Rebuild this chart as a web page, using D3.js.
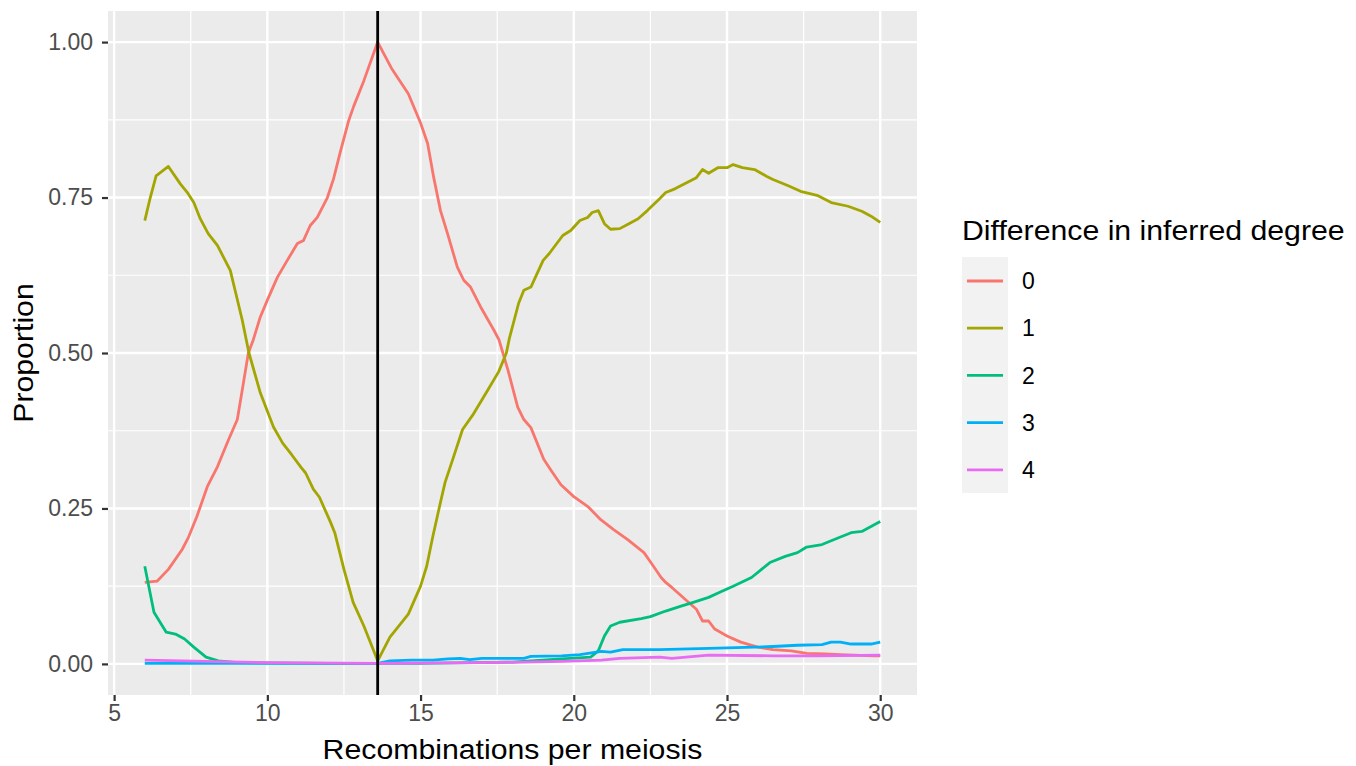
<!DOCTYPE html>
<html>
<head>
<meta charset="utf-8">
<script src="https://cdn.jsdelivr.net/npm/d3@7"></script>
<style>
  body { margin: 0; background: #fff; }
  text { font-family: "Liberation Sans", Arial, sans-serif; }
</style>
</head>
<body>
<div id="chart"></div>
<script>
// series values, one pair of arrays per degree difference
var recomb0 = [6, 6.4, 6.77, 7.22, 7.42, 7.7, 8.04, 8.37, 8.73, 9.02, 9.2, 9.38, 9.54, 9.77, 10, 10.33, 10.65, 10.98, 11.18, 11.4, 11.63, 11.96, 12.16, 12.39, 12.65, 12.82, 13.15, 13.6, 14.05, 14.6, 15, 15.23, 15.43, 15.65, 15.88, 16.2, 16.41, 16.63, 16.96, 17.39, 17.56, 17.85, 18.17, 18.37, 18.6, 19.02, 19.25, 19.58, 20, 20.46, 20.88, 21.3, 21.76, 22.29, 22.6, 22.85, 23, 23.2, 24, 24.2, 24.4, 24.6, 25, 25.45, 26, 26.5, 27.1, 27.6, 28.2, 28.7, 29.8, 30];
var prop0 = [0.131, 0.133, 0.152, 0.184, 0.203, 0.237, 0.285, 0.317, 0.36, 0.393, 0.446, 0.50, 0.521, 0.558, 0.585, 0.622, 0.649, 0.676, 0.681, 0.705, 0.718, 0.75, 0.78, 0.825, 0.873, 0.897, 0.938, 1.0, 0.958, 0.917, 0.87, 0.837, 0.782, 0.729, 0.692, 0.638, 0.617, 0.606, 0.574, 0.537, 0.521, 0.473, 0.413, 0.393, 0.38, 0.329, 0.312, 0.288, 0.269, 0.253, 0.232, 0.216, 0.2, 0.179, 0.157, 0.139, 0.131, 0.123, 0.088, 0.069, 0.069, 0.056, 0.045, 0.035, 0.027, 0.023, 0.021, 0.017, 0.016, 0.015, 0.013, 0.013];

var recomb1 = [6, 6.18, 6.37, 6.77, 7.16, 7.39, 7.6, 7.81, 8.07, 8.37, 8.79, 9, 9.18, 9.4, 9.77, 10.2, 10.5, 10.8, 11.1, 11.25, 11.5, 11.7, 12.06, 12.2, 12.5, 12.8, 13.15, 13.6, 14, 14.6, 15, 15.2, 15.4, 15.65, 15.8, 16.05, 16.37, 16.7, 17.2, 17.55, 17.8, 17.9, 18.2, 18.37, 18.6, 19, 19.2, 19.64, 19.9, 20.2, 20.45, 20.6, 20.8, 21, 21.2, 21.5, 21.8, 22.1, 22.4, 22.8, 23, 23.3, 24, 24.2, 24.4, 24.7, 25, 25.2, 25.5, 25.9, 26.3, 26.5, 27, 27.4, 27.97, 28.4, 28.95, 29.4, 29.7, 30];
var prop1 = [0.713, 0.75, 0.785, 0.80, 0.772, 0.758, 0.742, 0.716, 0.692, 0.673, 0.633, 0.59, 0.553, 0.50, 0.436, 0.381, 0.355, 0.336, 0.316, 0.307, 0.281, 0.268, 0.228, 0.211, 0.152, 0.099, 0.061, 0.005, 0.043, 0.08, 0.125, 0.157, 0.205, 0.26, 0.292, 0.329, 0.377, 0.40, 0.441, 0.47, 0.50, 0.524, 0.58, 0.601, 0.606, 0.649, 0.66, 0.689, 0.697, 0.713, 0.718, 0.726, 0.729, 0.708, 0.699, 0.70, 0.708, 0.716, 0.729, 0.748, 0.758, 0.764, 0.782, 0.795, 0.789, 0.798, 0.798, 0.803, 0.798, 0.795, 0.784, 0.779, 0.769, 0.760, 0.753, 0.742, 0.736, 0.728, 0.72, 0.71];

var recomb2 = [6, 6.3, 6.7, 7, 7.3, 7.6, 8, 8.4, 9, 12, 15, 18, 19.6, 20.55, 20.8, 21, 21.2, 21.5, 22.2, 22.5, 23, 23.5, 23.9, 24.4, 24.8, 25.2, 25.8, 26.4, 26.9, 27.3, 27.6, 28.1, 28.6, 29.05, 29.4, 29.7, 30];
var prop2 = [0.157, 0.083, 0.051, 0.048, 0.04, 0.027, 0.011, 0.005, 0.002, 0.001, 0.001, 0.003, 0.008, 0.011, 0.021, 0.045, 0.061, 0.067, 0.073, 0.076, 0.085, 0.093, 0.099, 0.107, 0.116, 0.125, 0.139, 0.163, 0.173, 0.179, 0.188, 0.192, 0.202, 0.211, 0.213, 0.221, 0.229];

var recomb3 = [6, 10, 13.6, 14, 14.7, 15.4, 15.9, 16.3, 16.6, 17, 18.37, 18.6, 19.6, 20.2, 20.9, 21.2, 21.6, 22.8, 24.4, 25.9, 26.5, 27.3, 28.1, 28.4, 28.7, 29.05, 29.7, 30];
var prop3 = [0.001, 0.001, 0.001, 0.005, 0.006, 0.006, 0.008, 0.009, 0.007, 0.009, 0.009, 0.012, 0.013, 0.015, 0.020, 0.019, 0.023, 0.023, 0.025, 0.027, 0.028, 0.030, 0.031, 0.035, 0.035, 0.032, 0.032, 0.035];

var recomb4 = [6, 8, 10, 13.6, 17, 18.4, 19.6, 20.9, 21.5, 22.8, 23.2, 24.4, 26.5, 28, 30];
var prop4 = [0.006, 0.004, 0.002, 0.001, 0.002, 0.003, 0.004, 0.006, 0.009, 0.011, 0.009, 0.014, 0.013, 0.013, 0.014];

var degrees = ["0", "1", "2", "3", "4"];
var colours = ["#F8766D", "#A3A500", "#00BF7D", "#00B0F6", "#E76BF3"];
var xTicks = [5, 10, 15, 20, 25, 30];
var yTicks = [0, 0.25, 0.5, 0.75, 1];
var cutoff = 13.6;

var series = [
  { key: degrees[0], xs: recomb0, ys: prop0 },
  { key: degrees[1], xs: recomb1, ys: prop1 },
  { key: degrees[2], xs: recomb2, ys: prop2 },
  { key: degrees[3], xs: recomb3, ys: prop3 },
  { key: degrees[4], xs: recomb4, ys: prop4 }
];

var W = 1356, H = 766;
var panel = { left: 108, top: 11, right: 917, bottom: 695 };

// the reference type runs a little wider than Liberation Sans
var titleStretch = 1.1;

var svg = d3.select("#chart").append("svg")
  .attr("width", W)
  .attr("height", H);

// ggplot style 5% expansion on both axes
var x = d3.scaleLinear().domain([4.8, 31.2]).range([panel.left, panel.right]);
var y = d3.scaleLinear().domain([-0.05, 1.05]).range([panel.bottom, panel.top]);
var colour = d3.scaleOrdinal().domain(degrees).range(colours);

svg.append("rect")
  .attr("x", panel.left)
  .attr("y", panel.top)
  .attr("width", panel.right - panel.left)
  .attr("height", panel.bottom - panel.top)
  .attr("fill", "#ebebeb");

var grid = svg.append("g");

// minor grid first, majors on top
grid.selectAll(".minor-x")
  .data([7.5, 12.5, 17.5, 22.5, 27.5])
  .join("line")
  .attr("x1", d => x(d)).attr("x2", d => x(d))
  .attr("y1", panel.top).attr("y2", panel.bottom)
  .attr("stroke", "#fff").attr("stroke-width", 1.2);

grid.selectAll(".minor-y")
  .data([0.125, 0.375, 0.625, 0.875])
  .join("line")
  .attr("y1", d => y(d)).attr("y2", d => y(d))
  .attr("x1", panel.left).attr("x2", panel.right)
  .attr("stroke", "#fff").attr("stroke-width", 1.2);

grid.selectAll(".major-x")
  .data(xTicks)
  .join("line")
  .attr("x1", d => x(d)).attr("x2", d => x(d))
  .attr("y1", panel.top).attr("y2", panel.bottom)
  .attr("stroke", "#fff").attr("stroke-width", 2.4);

grid.selectAll(".major-y")
  .data(yTicks)
  .join("line")
  .attr("y1", d => y(d)).attr("y2", d => y(d))
  .attr("x1", panel.left).attr("x2", panel.right)
  .attr("stroke", "#fff").attr("stroke-width", 2.4);

var xAxis = svg.append("g")
  .attr("transform", `translate(0, ${panel.bottom})`)
  .call(d3.axisBottom(x).tickValues(xTicks).tickSize(6).tickPadding(4).tickFormat(d3.format("d")));

var yAxis = svg.append("g")
  .attr("transform", `translate(${panel.left}, 0)`)
  .call(d3.axisLeft(y).tickValues(yTicks).tickSize(6).tickPadding(9).tickFormat(d3.format(".2f")));

[xAxis, yAxis].forEach(function(ax) {
  ax.select(".domain").remove();
  ax.selectAll(".tick line").attr("stroke", "#333").attr("stroke-width", 2.2);
  ax.selectAll(".tick text")
    .attr("fill", "#4d4d4d")
    .attr("font-size", "23px")
    .attr("font-family", "Liberation Sans, Arial, sans-serif");
});

var line = d3.line()
  .x(d => x(d[0]))
  .y(d => y(d[1]));

svg.append("g").selectAll("path")
  .data(series)
  .join("path")
  .attr("d", s => line(s.xs.map((v, i) => [v, s.ys[i]])))
  .attr("fill", "none")
  .attr("stroke", s => colour(s.key))
  .attr("stroke-width", 2.8)
  .attr("stroke-linejoin", "round");

svg.append("line")
  .attr("x1", x(cutoff)).attr("x2", x(cutoff))
  .attr("y1", panel.top).attr("y2", panel.bottom)
  .attr("stroke", "#000")
  .attr("stroke-width", 2.8);

// axis titles
svg.append("g")
  .attr("transform", `translate(${(panel.left + panel.right) / 2}, 759) scale(${titleStretch}, 1)`)
  .append("text")
  .attr("text-anchor", "middle")
  .attr("font-size", "27.5px")
  .attr("fill", "#000")
  .text("Recombinations per meiosis");

svg.append("g")
  .attr("transform", `translate(33, ${(panel.top + panel.bottom) / 2}) rotate(-90) scale(${titleStretch}, 1)`)
  .append("text")
  .attr("text-anchor", "middle")
  .attr("font-size", "27.5px")
  .attr("fill", "#000")
  .text("Proportion");

// legend
var legend = svg.append("g").attr("transform", "translate(962, 0)");

legend.append("g")
  .attr("transform", `translate(0, 240) scale(${titleStretch}, 1)`)
  .append("text")
  .attr("font-size", "27.5px")
  .attr("fill", "#000")
  .text("Difference in inferred degree");

legend.append("rect")
  .attr("x", 0).attr("y", 257)
  .attr("width", 46).attr("height", 236)
  .attr("fill", "#f2f2f2");

var keys = legend.selectAll(".key")
  .data(degrees)
  .join("g")
  .attr("transform", (d, i) => `translate(0, ${281 + i * 47.2})`);

keys.append("line")
  .attr("x1", 5).attr("x2", 41)
  .attr("stroke", d => colour(d))
  .attr("stroke-width", 2.8);

keys.append("text")
  .attr("x", 60)
  .attr("y", 0)
  .attr("dy", "0.36em")
  .attr("font-size", "23px")
  .attr("fill", "#000")
  .text(d => d);
</script>
</body>
</html>
